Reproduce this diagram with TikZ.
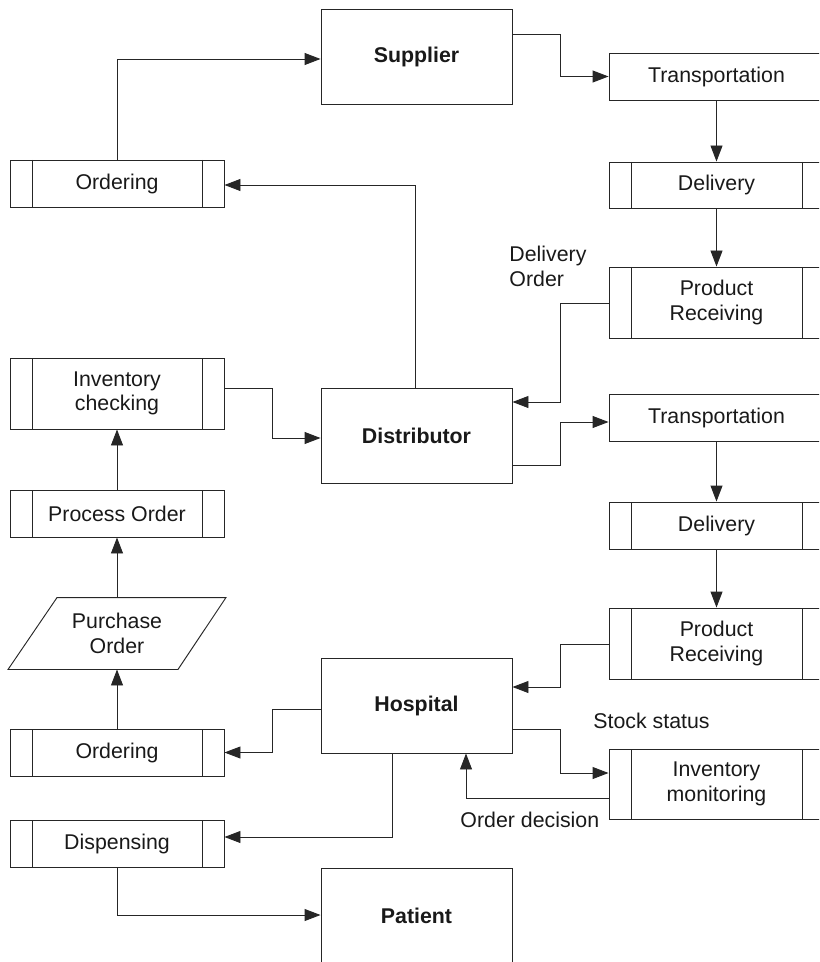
\documentclass[tikz,border=0pt]{standalone}
\usepackage{fontspec}
\setmainfont{Liberation Sans}
\usetikzlibrary{arrows.meta,calc}
\begin{document}
\begin{tikzpicture}[x=0.75pt,y=-0.75pt,
  line width=0.7pt, draw=black!85,
  every node/.style={font=\fontsize{16}{18.5}\selectfont, text=black!90},
  box/.style={draw, rectangle, inner sep=0pt, align=center},
  lbox/.style={box, minimum width=214*0.75pt},
  cbox/.style={box, minimum width=191*0.75pt, font=\fontsize{16}{18.5}\selectfont\bfseries},
  rbox/.style={box, minimum width=215*0.75pt},
  proc/.style={path picture={
     \draw ([xshift=22*0.75pt]path picture bounding box.north west) -- ([xshift=22*0.75pt]path picture bounding box.south west);
     \draw ([xshift=-22*0.75pt]path picture bounding box.north east) -- ([xshift=-22*0.75pt]path picture bounding box.south east);}},
  hh/.style={minimum height=#1*0.75pt},
  conn/.style={draw, -{Triangle[length=12pt,width=9pt]}},
  lbl/.style={inner sep=0pt, align=left}
]
\clip (0,0) rectangle (819,962);
% left column
\node[lbox,proc,hh=47] (ord1) at (117,183.5) {Ordering};
\node[lbox,proc,hh=71] (invc) at (117,393.5) {Inventory\\checking};
\node[lbox,proc,hh=47] (proc) at (117,513.5) {Process Order};
\node[inner sep=0pt, minimum width=217*0.75pt, minimum height=71*0.75pt, align=center] (po) at (117,633.5) {Purchase\\Order};
\draw ([xshift=49*0.75pt]po.north west) -- (po.north east) -- ([xshift=-48*0.75pt]po.south east) -- (po.south west) -- cycle;
\node[lbox,proc,hh=47] (ord2) at (117,752.5) {Ordering};
\node[lbox,proc,hh=47] (disp) at (117,843.5) {Dispensing};
% center column
\node[cbox,hh=95] (sup) at (416.5,56.5) {Supplier};
\node[cbox,hh=95] (dist) at (416.5,435.5) {Distributor};
\node[cbox,hh=95] (hosp) at (416.5,705.5) {Hospital};
\node[cbox,hh=96] (pat) at (416.5,916) {Patient};
% right column
\node[rbox,hh=47] (tr1) at (716.5,76.5) {Transportation};
\node[rbox,proc,hh=46] (del1) at (716.5,185) {Delivery};
\node[rbox,proc,hh=71] (pr1) at (716.5,302.5) {Product\\Receiving};
\node[rbox,hh=47] (tr2) at (716.5,417.5) {Transportation};
\node[rbox,proc,hh=47] (del2) at (716.5,525.5) {Delivery};
\node[rbox,proc,hh=71] (pr2) at (716.5,643.5) {Product\\Receiving};
\node[rbox,proc,hh=70] (invm) at (716.5,784) {Inventory\\monitoring};
% labels
\node[lbl, anchor=north west] (lab1) at (509,246) {Delivery\\Order};
\node[lbl, anchor=base west] (lab2) at (593,728) {Stock status};
\node[lbl, anchor=base west] (lab3) at (460,827) {Order decision};
% connectors
\draw[conn] (ord1.north) |- (sup.west |- 0,59);
\draw[conn] (sup.east |- 0,34) -- (560,34) |- (tr1.west);
\draw[conn] (tr1.south) -- (del1.north);
\draw[conn] (del1.south) -- (pr1.north);
\draw[conn] (pr1.west |- 0,303) -- (560,303) |- (dist.east |- 0,402);
\draw[conn] (dist.north -| 415,0) |- (ord1.east |- 0,185);
\draw[conn] (invc.east |- 0,388) -- (272,388) |- (dist.west |- 0,438);
\draw[conn] (dist.east |- 0,465) -- (560,465) |- (tr2.west |- 0,422);
\draw[conn] (tr2.south) -- (del2.north);
\draw[conn] (del2.south) -- (pr2.north);
\draw[conn] (pr2.west |- 0,644) -- (560,644) |- (hosp.east |- 0,687);
\draw[conn] (hosp.east |- 0,729) -- (560,729) |- (invm.west |- 0,773);
\draw[conn] (invm.west |- 0,798) -| (hosp.south -| 466,0);
\draw[conn] (hosp.west |- 0,709) -- (272,709) |- (ord2.east);
\draw[conn] (hosp.south -| 392,0) |- (disp.east |- 0,837);
\draw[conn] (disp.south) |- (pat.west |- 0,915);
\draw[conn] (ord2.north) -- (po.south);
\draw[conn] (po.north) -- (proc.south);
\draw[conn] (proc.north) -- (invc.south);
\end{tikzpicture}
\end{document}
